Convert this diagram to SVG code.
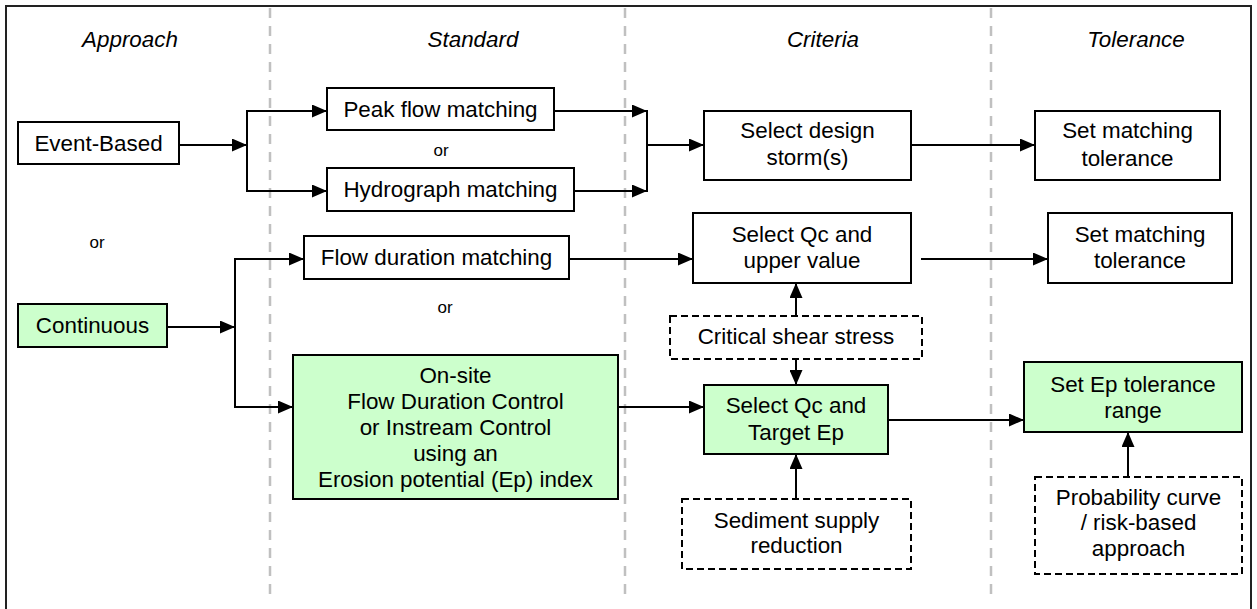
<svg xmlns="http://www.w3.org/2000/svg" width="1257" height="609" viewBox="0 0 1257 609">
  <style>
    .box { fill: #ffffff; stroke: #000; stroke-width: 2; }
    .green { fill: #ccffcc; stroke: #000; stroke-width: 2; }
    .dash { fill: #ffffff; stroke: #000; stroke-width: 2; stroke-dasharray: 7 4; }
    .lbl { font-family: "Liberation Sans", Arial, sans-serif; font-size: 22.4px; fill: #000; text-anchor: middle; }
    .hdr { font-family: "Liberation Sans", Arial, sans-serif; font-size: 22.4px; font-style: italic; fill: #000; text-anchor: middle; }
    .or { font-family: "Liberation Sans", Arial, sans-serif; font-size: 17px; fill: #000; text-anchor: middle; }
    .lane { stroke: #c0c0c0; stroke-width: 2.5; stroke-dasharray: 10 8; fill: none; }
    .wire { stroke: #000; stroke-width: 2; fill: none; }
    .arr { stroke: #000; stroke-width: 2; fill: none; marker-end: url(#head); }
  </style>
  <defs>
    <marker id="head" markerUnits="userSpaceOnUse" markerWidth="15" markerHeight="13" refX="15" refY="6.5" orient="auto">
      <path d="M0,0 L15,6.5 L0,13 Z" fill="#000"/>
    </marker>
  </defs>

  <!-- frame and lanes -->
  <g id="frame">
    <path d="M6,609 V6 H1251 V609" fill="none" stroke="#222" stroke-width="2"/>
    <line class="lane" x1="270" y1="8" x2="270" y2="598"/>
    <line class="lane" x1="625" y1="8" x2="625" y2="598"/>
    <line class="lane" x1="991" y1="8" x2="991" y2="598"/>
  </g>

  <!-- column headers -->
  <g id="headers">
    <text class="hdr" x="130" y="47">Approach</text>
    <text class="hdr" x="473" y="47">Standard</text>
    <text class="hdr" x="823" y="47">Criteria</text>
    <text class="hdr" x="1136" y="47">Tolerance</text>
  </g>

  <g id="or-labels">
    <text class="or" x="97" y="248">or</text>
    <text class="or" x="441" y="156">or</text>
    <text class="or" x="445" y="313">or</text>
  </g>

  <!-- connectors -->
  <g id="connectors">
    <line class="arr" x1="179" y1="145" x2="247" y2="145"/>
    <line class="wire" x1="247" y1="110" x2="247" y2="192"/>
    <line class="arr" x1="246" y1="111" x2="327" y2="111"/>
    <line class="arr" x1="246" y1="191" x2="327" y2="191"/>

    <line class="arr" x1="554" y1="111" x2="647" y2="111"/>
    <line class="arr" x1="572" y1="191" x2="647" y2="191"/>
    <line class="wire" x1="647" y1="110" x2="647" y2="192"/>
    <line class="arr" x1="646" y1="145" x2="704" y2="145"/>
    <line class="arr" x1="911" y1="145" x2="1035" y2="145"/>

    <line class="arr" x1="167" y1="327" x2="235" y2="327"/>
    <line class="wire" x1="235" y1="258" x2="235" y2="408"/>
    <line class="arr" x1="234" y1="259" x2="304" y2="259"/>
    <line class="arr" x1="234" y1="407" x2="293" y2="407"/>

    <line class="arr" x1="569" y1="259" x2="693" y2="259"/>
    <line class="arr" x1="921" y1="259" x2="1048" y2="259"/>

    <line class="arr" x1="796" y1="316" x2="796" y2="283"/>
    <line class="arr" x1="796" y1="359" x2="796" y2="385"/>

    <line class="arr" x1="614" y1="407" x2="704" y2="407"/>
    <line class="arr" x1="888" y1="420" x2="1024" y2="420"/>

    <line class="arr" x1="796" y1="499" x2="796" y2="454"/>
    <line class="arr" x1="1128" y1="477" x2="1128" y2="432"/>
  </g>

  <!-- nodes -->
  <g id="event-based">
    <rect class="box" x="18" y="122" width="161" height="42"/>
    <text class="lbl" x="98.5" y="151">Event-Based</text>
  </g>
  <g id="continuous">
    <rect class="green" x="18" y="304" width="149" height="43"/>
    <text class="lbl" x="92.5" y="333">Continuous</text>
  </g>
  <g id="peak-flow">
    <rect class="box" x="327" y="88" width="227" height="42"/>
    <text class="lbl" x="440.5" y="117">Peak flow matching</text>
  </g>
  <g id="hydrograph">
    <rect class="box" x="327" y="168" width="247" height="43"/>
    <text class="lbl" x="450.5" y="197">Hydrograph matching</text>
  </g>
  <g id="flow-duration">
    <rect class="box" x="304" y="236" width="265" height="43"/>
    <text class="lbl" x="436.5" y="265">Flow duration matching</text>
  </g>
  <g id="on-site">
    <rect class="green" x="293" y="355" width="325" height="144"/>
    <text class="lbl" x="455.5" y="383">On-site</text>
    <text class="lbl" x="455.5" y="409">Flow Duration Control</text>
    <text class="lbl" x="455.5" y="435">or Instream Control</text>
    <text class="lbl" x="455.5" y="461">using an</text>
    <text class="lbl" x="455.5" y="487">Erosion potential (Ep) index</text>
  </g>
  <g id="design-storm">
    <rect class="box" x="704" y="111" width="207" height="69"/>
    <text class="lbl" x="807.5" y="138">Select design</text>
    <text class="lbl" x="807.5" y="165">storm(s)</text>
  </g>
  <g id="qc-upper">
    <rect class="box" x="693" y="213" width="218" height="70"/>
    <text class="lbl" x="802" y="242">Select Qc and</text>
    <text class="lbl" x="802" y="268">upper value</text>
  </g>
  <g id="critical-shear">
    <rect class="dash" x="670" y="316" width="252" height="43"/>
    <text class="lbl" x="796" y="344">Critical shear stress</text>
  </g>
  <g id="qc-target">
    <rect class="green" x="704" y="385" width="184" height="69"/>
    <text class="lbl" x="796" y="413">Select Qc and</text>
    <text class="lbl" x="796" y="440">Target Ep</text>
  </g>
  <g id="sediment">
    <rect class="dash" x="682" y="499" width="229" height="70"/>
    <text class="lbl" x="796.5" y="528">Sediment supply</text>
    <text class="lbl" x="796.5" y="553">reduction</text>
  </g>
  <g id="tolerance-1">
    <rect class="box" x="1035" y="111" width="185" height="69"/>
    <text class="lbl" x="1127.5" y="138">Set matching</text>
    <text class="lbl" x="1127.5" y="166">tolerance</text>
  </g>
  <g id="tolerance-2">
    <rect class="box" x="1048" y="213" width="184" height="70"/>
    <text class="lbl" x="1140" y="242">Set matching</text>
    <text class="lbl" x="1140" y="268">tolerance</text>
  </g>
  <g id="ep-tolerance">
    <rect class="green" x="1024" y="362" width="218" height="70"/>
    <text class="lbl" x="1133" y="392">Set Ep tolerance</text>
    <text class="lbl" x="1133" y="418">range</text>
  </g>
  <g id="probability">
    <rect class="dash" x="1035" y="477" width="207" height="97"/>
    <text class="lbl" x="1138.5" y="505">Probability curve</text>
    <text class="lbl" x="1138.5" y="530">/ risk-based</text>
    <text class="lbl" x="1138.5" y="556">approach</text>
  </g>
</svg>
